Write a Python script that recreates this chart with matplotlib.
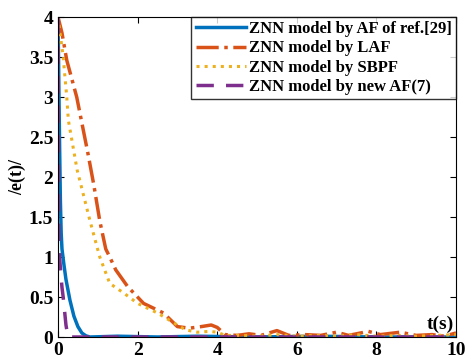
import numpy as np
import matplotlib
matplotlib.use('Agg')
import matplotlib.pyplot as plt

# values
t_af29 = [0, 0.02, 0.04, 0.06, 0.08, 0.1, 0.15, 0.2, 0.3, 0.4, 0.5, 0.6, 0.7, 0.8, 1.5, 2.5, 3.5, 5, 6.5, 8, 10]
e_af29 = [4.0, 3.2, 2.4, 1.7, 1.3, 1.1, 0.9, 0.72, 0.46, 0.26, 0.13, 0.05, 0.015, 0.0, 0.01, 0.0, 0.01, 0.0, 0.01, 0.0, 0.0]

t_laf = [0, 0.1, 0.22, 0.47, 0.75, 0.9, 1.05, 1.2, 1.3, 1.45, 1.75, 2.15, 2.4, 2.65, 3.0, 3.3, 3.6, 3.85, 4.0, 4.2, 4.5,
         4.8, 5.1, 5.5, 5.8, 6.2, 6.6, 7.0, 7.3, 7.8, 8.1, 8.6, 9.0, 9.4, 9.7, 10]
e_laf = [4.0, 3.8, 3.46, 3.0, 2.3, 1.9, 1.45, 1.1, 1.0, 0.84, 0.63, 0.42, 0.36, 0.3, 0.13, 0.11, 0.13, 0.15, 0.12, 0.03, 0.02,
         0.04, 0.02, 0.08, 0.02, 0.03, 0.02, 0.06, 0.02, 0.07, 0.03, 0.06, 0.02, 0.03, 0.01, 0.05]

t_sbpf = [0, 0.13, 0.22, 0.26, 0.48, 0.8, 1.0, 1.05, 1.3, 1.65, 2.0, 2.5, 2.9, 3.2, 3.5, 3.8, 4.0, 4.2, 4.6, 5.0, 5.5,
          6.0, 6.5, 7.0, 7.5, 8.0, 8.5, 9.0, 9.5, 10]
e_sbpf = [4.0, 3.5, 3.0, 2.71, 2.09, 1.46, 1.09, 1.0, 0.67, 0.55, 0.42, 0.3, 0.18, 0.09, 0.06, 0.07, 0.06, 0.02, 0.02, 0.01, 0.03,
          0.01, 0.02, 0.01, 0.03, 0.01, 0.02, 0.01, 0.02, 0.03]

t_new = [0, 0.01, 0.02, 0.04, 0.07, 0.1, 0.13, 0.17, 0.2, 0.25, 0.3, 10]
e_new = [4.0, 2.5, 1.3, 1.0, 0.8, 0.62, 0.5, 0.3, 0.15, 0.0, 0.0, 0.0]

labels = ['ZNN model by AF of ref.[29]', 'ZNN model by LAF', 'ZNN model by SBPF', 'ZNN model by new AF(7)']

plt.rcParams['font.family'] = 'Liberation Serif'
plt.rcParams['font.weight'] = 'bold'

fig = plt.figure(figsize=(4.65, 3.64), dpi=100)
ax = fig.add_axes([58/465, 27/364, 398/465, 320/364])

ax.plot(t_af29, e_af29, '-', color='#0072BD', lw=2.5, label=labels[0])
ax.plot(t_laf, e_laf, '-.', color='#D95319', lw=2.5, label=labels[1])
ax.plot(t_sbpf, e_sbpf, ':', color='#EDB120', lw=2.2, label=labels[2])
ax.plot(t_new, e_new, '--', color='#7E2F8E', lw=2.5, dashes=(5, 3.5), label=labels[3])

ax.set_xlim(0, 10)
ax.set_ylim(0, 4)
ax.set_xticks([0, 2, 4, 6, 8, 10])
ax.set_yticks([0, 0.5, 1, 1.5, 2, 2.5, 3, 3.5, 4])
ax.set_yticklabels(['0', '0.5', '1', '1.5', '2', '2.5', '3', '3.5', '4'])
ax.tick_params(direction='in', top=True, right=True, labelsize=14, length=4)
for lab in ax.get_xticklabels() + ax.get_yticklabels():
    lab.set_fontweight('bold')

ax.set_ylabel('/e(t)/', fontsize=13, fontweight='bold', labelpad=2)
ax.text(9.6, 0.05, 't(s)', fontsize=14, fontweight='bold', ha='center', va='bottom')

leg = ax.legend(loc='upper right', frameon=True, fancybox=False,
                edgecolor='black', borderaxespad=0, handlelength=3.0, handletextpad=0.2,
                borderpad=0.25, labelspacing=0.2, prop={'weight': 'bold', 'size': 12})
leg.get_frame().set_linewidth(1.0)

plt.savefig('out.png', dpi=100)
